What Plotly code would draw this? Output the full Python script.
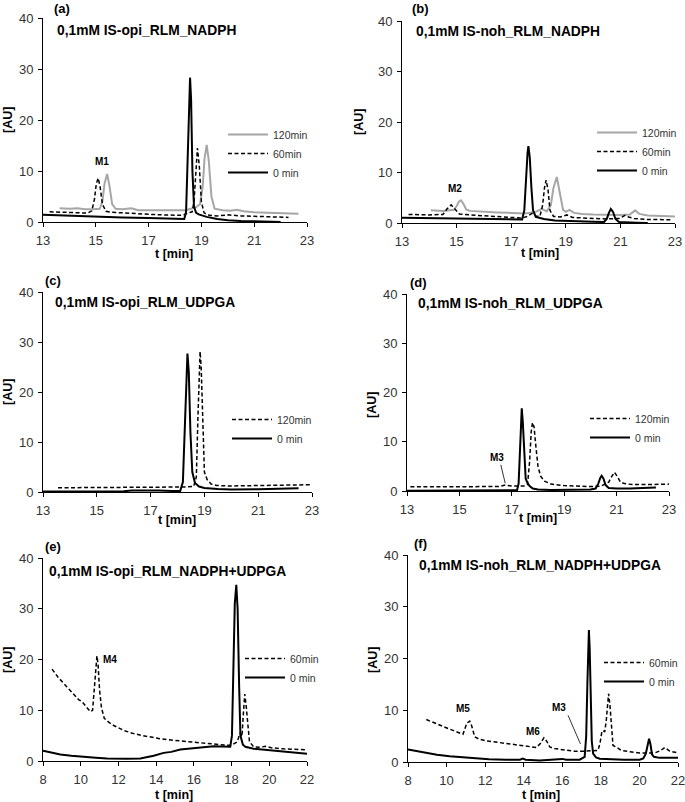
import plotly.graph_objects as go

W, H = 685, 802

# ---------------- data (t [min], AU) ----------------
# (a) 0,1mM IS-opi_RLM_NADPH
a_t120 = [13.63, 14.0, 14.3, 14.6, 14.9, 15.15, 15.25, 15.33, 15.43, 15.52, 15.62, 15.75, 16.0, 16.35, 16.6, 17.0, 17.5, 18.0, 18.4, 18.6, 18.8, 18.95, 19.05, 19.12, 19.2, 19.28, 19.38, 19.5, 19.8, 20.1, 20.34, 20.6, 21.0, 21.5, 22.0, 22.68]
a_y120 = [2.7, 2.6, 2.7, 2.5, 2.5, 2.6, 4.0, 7.5, 9.4, 7.0, 3.5, 2.6, 2.5, 2.7, 2.3, 2.3, 2.2, 2.2, 2.3, 2.6, 2.9, 3.5, 7.0, 12.5, 15.1, 12.0, 5.0, 2.6, 2.3, 2.2, 2.4, 2.1, 1.9, 1.8, 1.7, 1.6]
a_t60 = [13.25, 13.8, 14.3, 14.7, 14.85, 14.95, 15.02, 15.09, 15.16, 15.25, 15.38, 15.6, 16.0, 16.5, 17.0, 17.5, 18.0, 18.3, 18.5, 18.65, 18.72, 18.78, 18.85, 18.92, 19.0, 19.1, 19.3, 19.6, 20.0, 20.5, 21.0, 21.5, 22.0, 22.3]
a_y60 = [2.0, 1.9, 1.8, 1.75, 2.2, 4.5, 7.5, 8.6, 7.0, 3.5, 2.1, 1.9, 1.8, 1.6, 1.5, 1.4, 1.3, 1.3, 1.8, 2.0, 4.0, 10.0, 14.5, 11.0, 4.0, 1.8, 1.3, 1.2, 1.4, 1.2, 1.1, 1.0, 1.0, 0.9]
a_t0 = [13.0, 14.0, 15.0, 16.0, 17.0, 18.0, 18.35, 18.42, 18.48, 18.54, 18.57, 18.61, 18.66, 18.72, 18.8, 18.9, 19.2, 19.6, 20.0, 20.5, 21.0, 21.5, 22.0]
a_y0 = [1.4, 1.2, 1.0, 0.9, 0.8, 0.65, 0.6, 2.0, 12.0, 25.0, 28.3, 24.0, 10.0, 3.0, 1.8, 1.5, 1.0, 0.6, 0.35, 0.2, 0.1, 0.05, 0.0]

# (b) 0,1mM IS-noh_RLM_NADPH
b_t120 = [14.06, 14.5, 14.9, 15.0, 15.08, 15.16, 15.25, 15.35, 15.5, 16.0, 16.5, 17.0, 17.5, 17.9, 18.12, 18.3, 18.45, 18.55, 18.67, 18.78, 18.9, 19.0, 19.13, 19.3, 19.6, 20.0, 20.5, 21.0, 21.35, 21.54, 21.7, 22.0, 22.5, 23.0]
b_y120 = [2.5, 2.4, 2.6, 3.3, 4.2, 4.5, 3.8, 2.7, 2.4, 2.2, 2.1, 2.0, 1.9, 2.2, 2.8, 2.3, 3.5, 7.0, 9.1, 6.0, 2.6, 2.2, 2.6, 2.0, 1.8, 1.7, 1.6, 1.6, 1.7, 2.5, 1.8, 1.5, 1.4, 1.3]
b_t60 = [13.24, 14.0, 14.5, 14.65, 14.8, 14.95, 15.1, 15.5, 16.0, 16.5, 17.0, 17.4, 17.6, 17.76, 17.9, 18.05, 18.15, 18.22, 18.28, 18.35, 18.42, 18.55, 18.8, 19.04, 19.25, 19.6, 20.0, 20.5, 20.95, 21.08, 21.17, 21.3, 21.5, 22.0, 22.88]
b_y60 = [1.7, 1.6, 1.7, 2.8, 3.6, 2.6, 1.8, 1.6, 1.4, 1.2, 1.1, 1.0, 1.3, 1.9, 1.4, 1.3, 3.5, 7.0, 8.5, 6.5, 2.5, 1.3, 1.2, 1.6, 1.1, 1.0, 0.9, 0.8, 0.9, 1.3, 1.5, 1.2, 0.9, 0.7, 0.65]
b_t0 = [13.0, 14.0, 15.0, 16.0, 17.0, 17.4, 17.48, 17.54, 17.6, 17.63, 17.68, 17.74, 17.8, 17.9, 18.2, 18.6, 19.0, 19.5, 20.0, 20.4, 20.5, 20.58, 20.65, 20.73, 20.82, 20.95, 21.2, 21.6, 22.0]
b_y0 = [1.05, 0.95, 0.8, 0.75, 0.7, 0.7, 2.5, 9.0, 14.0, 15.2, 13.0, 7.0, 2.5, 1.2, 0.8, 0.5, 0.4, 0.3, 0.25, 0.2, 0.8, 2.0, 2.8, 2.2, 0.8, 0.2, 0.1, 0.05, 0.0]

# (c) 0,1mM IS-opi_RLM_UDPGA
c_t120 = [13.56, 14.5, 15.5, 16.5, 17.5, 18.3, 18.6, 18.7, 18.76, 18.8, 18.84, 18.88, 18.92, 18.96, 19.0, 19.1, 19.25, 19.46, 20.0, 21.0, 22.0, 23.0]
c_y120 = [0.85, 0.85, 0.9, 0.9, 0.95, 1.0, 1.1, 3.0, 15.0, 25.0, 28.1, 25.0, 17.0, 8.0, 4.0, 2.5, 1.6, 1.3, 1.2, 1.3, 1.4, 1.45]
c_t0 = [13.0, 14.0, 15.0, 16.0, 16.3, 16.8, 17.3, 17.8, 18.1, 18.2, 18.26, 18.32, 18.37, 18.42, 18.48, 18.55, 18.65, 18.8, 19.0, 19.5, 20.0, 21.0, 22.0, 22.5]
c_y0 = [0.1, 0.1, 0.1, 0.15, 0.3, 0.35, 0.3, 0.2, 0.2, 2.0, 12.0, 24.0, 27.7, 24.0, 12.0, 4.0, 1.8, 1.1, 0.8, 0.6, 0.5, 0.55, 0.65, 0.75]

# (d) 0,1mM IS-noh_RLM_UDPGA
d_t120 = [13.13, 14.0, 15.0, 16.0, 16.5, 16.75, 17.0, 17.5, 17.6, 17.68, 17.74, 17.79, 17.85, 17.92, 18.0, 18.1, 18.25, 18.5, 19.0, 19.5, 20.0, 20.4, 20.7, 20.82, 20.92, 21.02, 21.15, 21.3, 21.6, 22.0, 22.5, 23.0]
d_y120 = [0.85, 0.85, 0.85, 0.85, 0.9, 1.2, 1.0, 1.0, 1.3, 6.0, 12.0, 13.9, 13.0, 9.0, 5.0, 3.0, 2.0, 1.4, 1.1, 1.0, 0.9, 1.0, 1.8, 3.0, 3.8, 3.0, 1.8, 1.5, 1.3, 1.3, 1.35, 1.4]
d_t0 = [13.0, 14.0, 15.0, 16.0, 17.0, 17.2, 17.26, 17.31, 17.35, 17.38, 17.42, 17.47, 17.53, 17.6, 17.68, 17.8, 18.0, 18.5, 19.0, 19.5, 20.0, 20.2, 20.3, 20.38, 20.43, 20.5, 20.58, 20.7, 21.0, 21.5, 22.0, 22.5]
d_y0 = [0.05, 0.05, 0.05, 0.05, 0.1, 0.15, 1.5, 9.0, 15.5, 16.8, 14.0, 7.0, 2.5, 1.6, 1.0, 0.5, 0.3, 0.2, 0.2, 0.2, 0.3, 0.5, 1.5, 2.7, 3.1, 2.5, 1.2, 0.6, 0.5, 0.5, 0.6, 0.7]

# (e) 0,1mM IS-opi_RLM_NADPH+UDPGA
e_t60 = [8.48, 8.8, 9.27, 9.6, 9.89, 10.07, 10.3, 10.51, 10.63, 10.72, 10.8, 10.86, 10.92, 11.0, 11.1, 11.25, 11.5, 11.75, 12.3, 12.8, 13.3, 13.69, 14.2, 14.58, 15.1, 15.64, 16.2, 16.7, 17.2, 17.76, 18.0, 18.3, 18.45, 18.55, 18.62, 18.7, 18.77, 18.85, 18.95, 19.17, 19.5, 19.8, 20.1, 20.76, 21.4, 22.0]
e_y60 = [18.1, 16.5, 14.6, 13.2, 12.1, 11.7, 10.6, 9.7, 10.0, 15.0, 19.5, 20.7, 19.0, 14.0, 10.5, 8.4, 7.6, 7.0, 6.0, 5.4, 5.0, 4.7, 4.4, 4.2, 4.0, 3.8, 3.6, 3.4, 3.2, 3.1, 3.1, 3.8, 5.5, 4.8, 9.0, 13.2, 11.0, 7.0, 3.8, 2.8, 2.7, 2.9, 2.6, 2.4, 2.3, 2.2]
e_t0 = [8.0, 8.5, 8.92, 9.5, 10.16, 10.8, 11.4, 12.0, 12.45, 13.16, 13.5, 13.87, 14.4, 14.8, 15.28, 15.8, 16.34, 16.7, 17.05, 17.5, 17.93, 18.02, 18.1, 18.17, 18.25, 18.32, 18.4, 18.47, 18.6, 18.73, 19.17, 19.8, 20.76, 21.4, 22.0]
e_y0 = [2.0, 1.6, 1.3, 1.05, 0.8, 0.65, 0.5, 0.45, 0.45, 0.5, 0.7, 1.05, 1.6, 1.8, 2.25, 2.4, 2.6, 2.8, 2.9, 2.85, 2.8, 5.0, 18.0, 31.0, 34.7, 30.0, 15.0, 5.0, 3.2, 2.8, 2.4, 2.2, 1.9, 1.7, 1.45]

# (f) 0,1mM IS-noh_RLM_NADPH+UDPGA
f_t60 = [8.95, 9.64, 10.33, 10.85, 10.95, 11.05, 11.2, 11.3, 11.46, 11.7, 12.06, 12.6, 13.1, 13.6, 14.14, 14.65, 14.85, 15.05, 15.2, 15.35, 15.6, 15.86, 16.2, 16.56, 17.25, 17.85, 17.95, 18.05, 18.12, 18.2, 18.28, 18.35, 18.4, 18.47, 18.55, 18.63, 18.8, 19.06, 19.5, 20.01, 20.79, 21.1, 21.31, 21.45, 21.57, 22.0]
f_y60 = [8.2, 7.1, 6.1, 5.35, 6.5, 7.5, 7.9, 7.0, 4.85, 4.4, 4.1, 3.8, 3.55, 3.3, 3.0, 2.8, 3.5, 4.7, 4.0, 2.9, 2.6, 2.45, 2.3, 2.1, 2.1, 2.25, 3.5, 5.8, 6.1, 5.8, 8.0, 12.0, 13.2, 11.0, 6.0, 3.2, 2.9, 2.25, 2.0, 1.75, 1.75, 2.2, 2.8, 2.4, 2.1, 1.75]
f_t0 = [8.0, 8.95, 9.5, 10.16, 10.8, 11.37, 12.2, 13.1, 13.8, 13.95, 14.1, 14.83, 15.8, 16.0, 16.2, 16.9, 17.16, 17.24, 17.3, 17.35, 17.38, 17.42, 17.47, 17.53, 17.6, 17.75, 17.94, 18.5, 19.2, 20.01, 20.2, 20.33, 20.43, 20.5, 20.57, 20.65, 20.75, 21.05, 21.5, 22.0]
f_y0 = [2.4, 1.75, 1.4, 1.1, 0.9, 0.7, 0.55, 0.45, 0.45, 0.65, 0.45, 0.3, 0.45, 0.6, 0.45, 0.45, 1.0, 5.0, 15.0, 23.0, 25.5, 22.0, 12.0, 4.0, 1.6, 0.9, 0.65, 0.5, 0.45, 0.45, 0.7, 1.6, 3.8, 4.5, 3.5, 1.5, 1.0, 0.8, 0.8, 0.8]

panel_letters = ["(a)", "(b)", "(c)", "(d)", "(e)", "(f)"]
panel_titles = ["0,1mM IS-opi_RLM_NADPH", "0,1mM IS-noh_RLM_NADPH",
                "0,1mM IS-opi_RLM_UDPGA", "0,1mM IS-noh_RLM_UDPGA",
                "0,1mM IS-opi_RLM_NADPH+UDPGA", "0,1mM IS-noh_RLM_NADPH+UDPGA"]
x_ranges = [[13, 23], [13, 23], [13, 23], [13, 23], [8, 22], [8, 22]]
y_range = [0, 40]

# ---------------- layout helpers (pixel -> paper) ----------------
def px(x):
    return x / W

def py(y):
    return 1 - y / H

FONT = "Liberation Sans, Arial, sans-serif"
GRAY = "#a6a6a6"
DASH = "4px,2.5px"

# panel boxes in pixels: left, right, top, bottom
boxes = [(43, 307, 18, 222), (402, 675, 21, 223),
         (43, 312, 292, 492), (407, 669, 294, 491),
         (43, 307, 558, 761), (408, 678, 555, 762)]

fig = go.Figure()

styles = {
    "120min": dict(color=GRAY, width=2),
    "60min": dict(color="black", width=1.5, dash=DASH),
    "0 min": dict(color="black", width=2),
}
dashed120 = dict(color="black", width=1.5, dash=DASH)

panels = [
    [("120min", a_t120, a_y120), ("60min", a_t60, a_y60), ("0 min", a_t0, a_y0)],
    [("120min", b_t120, b_y120), ("60min", b_t60, b_y60), ("0 min", b_t0, b_y0)],
    [("120min", c_t120, c_y120), ("0 min", c_t0, c_y0)],
    [("120min", d_t120, d_y120), ("0 min", d_t0, d_y0)],
    [("60min", e_t60, e_y60), ("0 min", e_t0, e_y0)],
    [("60min", f_t60, f_y60), ("0 min", f_t0, f_y0)],
]

# legend placement: (line start x px, first row y px)
leg_pos = [(228, 130), (597, 128), (232, 415), (590, 414), (245, 654), (604, 658)]

for i, series in enumerate(panels):
    xa = "x" if i == 0 else f"x{i+1}"
    ya = "y" if i == 0 else f"y{i+1}"
    lg = "legend" if i == 0 else f"legend{i+1}"
    for name, t, v in series:
        st = styles[name]
        if i in (2, 3) and name == "120min":
            st = dashed120
        fig.add_trace(go.Scatter(x=t, y=v, mode="lines", name=name, line=st,
                                 xaxis=xa, yaxis=ya, legend=lg,
                                 legendgroup=f"{i}{name}", showlegend=True,
                                 hoverinfo="skip"))

layout = dict(
    width=W, height=H, margin=dict(l=0, r=0, t=0, b=0, autoexpand=False),
    paper_bgcolor="white", plot_bgcolor="white",
    font=dict(family=FONT, color="#333333", size=12),
    showlegend=True,
)

for i, (l, r, t, b) in enumerate(boxes):
    k = "" if i == 0 else str(i + 1)
    common = dict(showline=True, linecolor="black", linewidth=1, ticks="outside",
                  ticklen=4, tickcolor="black", showgrid=False, zeroline=False,
                  tickfont=dict(family=FONT, size=13, color="#333333"),
                  ticklabelstandoff=2, ticklabeloverflow="allow",
                  fixedrange=True, automargin=False)
    layout["xaxis" + k] = dict(domain=[px(l), px(r)], range=x_ranges[i], dtick=2,
                               tick0=x_ranges[i][0], anchor="y" + k, **common)
    layout["yaxis" + k] = dict(domain=[py(b), py(t)], range=y_range, dtick=10,
                               anchor="x" + k, **common)
    lx, ly = leg_pos[i]
    layout["legend" + k] = dict(x=px(lx - 5), y=py(ly - 10), xanchor="left", yanchor="top",
                                bgcolor="rgba(0,0,0,0)", borderwidth=0,
                                font=dict(family=FONT, size=10.5, color="#333333"),
                                itemwidth=40, tracegroupgap=2, traceorder="normal")

annotations = []
letter_pos = [(52, 8), (410, 8), (43, 280), (408, 282), (43, 546), (412, 543)]
title_pos = [(55, 30), (414, 32), (53, 302), (416, 304), (47, 571), (417, 565)]
ylab_pos = [(8, 120), (359, 122), (8, 392), (372, 405), (8, 660), (373, 660)]
xlab_pos = [(174, 254), (540, 253), (177, 520), (538, 518), (174, 795), (541, 795)]
for i in range(6):
    annotations.append(dict(text="<b>%s</b>" % panel_letters[i], x=px(letter_pos[i][0]), y=py(letter_pos[i][1]),
                            xref="paper", yref="paper", xanchor="left", yanchor="middle", showarrow=False,
                            font=dict(family=FONT, size=13, color="black")))
    annotations.append(dict(text="<b>%s</b>" % panel_titles[i], x=px(title_pos[i][0]), y=py(title_pos[i][1]),
                            xref="paper", yref="paper", xanchor="left", yanchor="middle", showarrow=False,
                            font=dict(family=FONT, size=13.8, color="black")))
    annotations.append(dict(text="<b>[AU]</b>", x=px(ylab_pos[i][0]), y=py(ylab_pos[i][1]), textangle=-90,
                            xref="paper", yref="paper", xanchor="center", yanchor="middle", showarrow=False,
                            font=dict(family=FONT, size=12.5, color="black")))
    annotations.append(dict(text="<b>t [min]</b>", x=px(xlab_pos[i][0]), y=py(xlab_pos[i][1]),
                            xref="paper", yref="paper", xanchor="center", yanchor="middle", showarrow=False,
                            font=dict(family=FONT, size=12.5, color="black")))

# metabolite labels (data coords)
mlabels = [("M1", 15.25, 11.9, "x", "y"), ("M2", 14.93, 6.8, "x2", "y2"),
           ("M3", 16.43, 6.8, "x4", "y4"), ("M4", 11.57, 20.0, "x5", "y5"),
           ("M5", 10.85, 10.3, "x6", "y6"), ("M6", 14.48, 5.9, "x6", "y6"),
           ("M3", 15.83, 10.6, "x6", "y6")]
for txt, xv, yv, xr, yr in mlabels:
    annotations.append(dict(text="<b>%s</b>" % txt, x=xv, y=yv, xref=xr, yref=yr, showarrow=False,
                            xanchor="center", yanchor="middle",
                            font=dict(family=FONT, size=10, color="black")))
layout["annotations"] = annotations

layout["shapes"] = [
    dict(type="line", xref="x4", yref="y4", x0=16.58, y0=5.3, x1=16.75, y1=1.56,
         line=dict(color="black", width=0.8)),
    dict(type="line", xref="x6", yref="y6", x0=16.3, y0=9.0, x1=16.94, y1=3.5,
         line=dict(color="black", width=0.8)),
]

fig.update_layout(**layout)
fig.write_html("out.html", config={"displayModeBar": False},
               post_script="document.body.style.margin='0';document.body.style.overflow='hidden';")
